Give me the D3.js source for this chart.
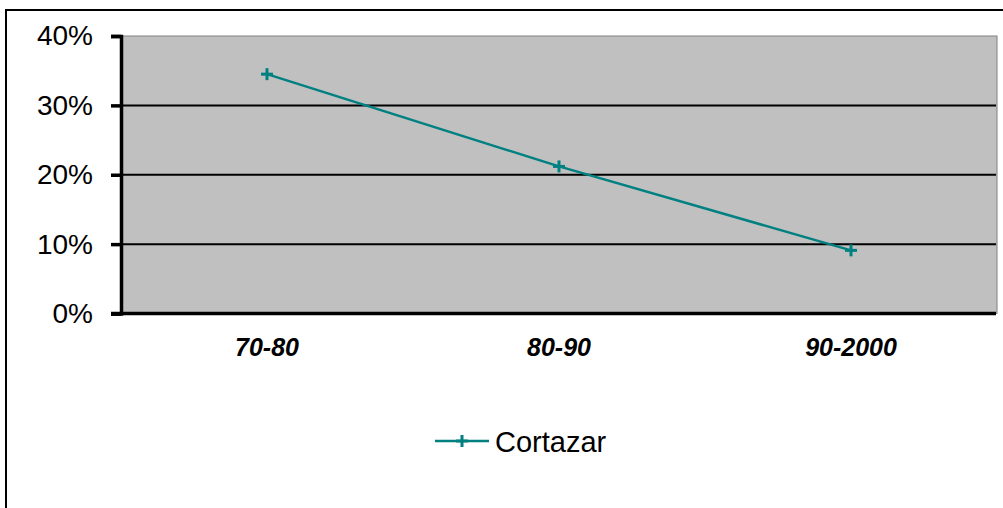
<!DOCTYPE html>
<html><head><meta charset="utf-8">
<script src="https://cdn.jsdelivr.net/npm/d3@7/dist/d3.min.js"></script>
<style>body{margin:0;background:#fff;overflow:hidden;} svg{display:block;font-family:"Liberation Sans",Arial,sans-serif;}</style>
</head><body>
<script>
const categories = ["70-80", "80-90", "90-2000"];
const seriesName = "Cortazar";
const values = [0.345, 0.212, 0.091];
const yTicks = [0, 0.1, 0.2, 0.3, 0.4];

const W = 1003, H = 508;
const svg = d3.select("body").append("svg").attr("width", W).attr("height", H);

svg.append("rect").attr("x", 6).attr("y", 10).attr("width", 1010).attr("height", 520)
  .attr("fill", "#fff").attr("stroke", "#000").attr("stroke-width", 2);

const L = 121, R = 997, T = 36, B = 313.5;
const x = d3.scaleBand().domain(categories).range([L, R]);
const y = d3.scaleLinear().domain([0, 0.4]).range([B, T]);

svg.append("rect").attr("x", L).attr("y", T).attr("width", R - L).attr("height", B - T)
  .attr("fill", "#c0c0c0").attr("stroke", "#808080").attr("stroke-width", 1);

// gridlines
svg.append("g").selectAll("line").data(yTicks.filter(d => d > 0 && d < 0.4)).join("line")
  .attr("x1", L).attr("x2", R - 1).attr("y1", d => y(d)).attr("y2", d => y(d))
  .attr("stroke", "#000").attr("stroke-width", 2);

// y axis
const yAxis = d3.axisLeft(y).tickValues(yTicks).tickFormat(d3.format(".0%")).tickSize(10).tickPadding(18);
const gy = svg.append("g").attr("transform", `translate(${L},0)`).call(yAxis);
gy.select(".domain").attr("stroke", "#000").attr("stroke-width", 3.5);
gy.selectAll(".tick line").attr("stroke", "#000").attr("stroke-width", 3.5);
gy.selectAll(".tick text").attr("font-size", 28).attr("fill", "#000").attr("font-family", "Liberation Sans, Arial, sans-serif");

// x axis
const xAxis = d3.axisBottom(x).tickSize(0).tickPadding(25);
const gx = svg.append("g").attr("transform", `translate(0,${B})`).call(xAxis);
gx.select(".domain").remove();
gx.append("line").attr("x1", L - 10).attr("x2", R - 1).attr("y1", 0).attr("y2", 0)
  .attr("stroke", "#000").attr("stroke-width", 3.5);
gx.selectAll(".tick text").attr("font-size", 25).attr("font-weight", "bold").attr("font-style", "italic")
  .attr("fill", "#000").attr("font-family", "Liberation Sans, Arial, sans-serif");

const teal = "#008080";
const cx = d => x(d) + x.bandwidth() / 2;
const line = d3.line().x((d, i) => cx(categories[i])).y(d => y(d));
svg.append("path").datum(values).attr("d", line).attr("fill", "none")
  .attr("stroke", teal).attr("stroke-width", 2.5);

const plus = (g, px, py, s) => {
  g.append("line").attr("x1", px - s).attr("x2", px + s).attr("y1", py).attr("y2", py).attr("stroke", teal).attr("stroke-width", 3);
  g.append("line").attr("x1", px).attr("x2", px).attr("y1", py - s).attr("y2", py + s).attr("stroke", teal).attr("stroke-width", 3);
};
const gm = svg.append("g");
values.forEach((v, i) => plus(gm, cx(categories[i]), y(v), 6));

// legend
const lg = svg.append("g");
lg.append("line").attr("x1", 435).attr("x2", 489).attr("y1", 441).attr("y2", 441).attr("stroke", teal).attr("stroke-width", 2.5);
plus(lg, 462, 441, 6);
lg.append("text").attr("x", 495).attr("y", 452).attr("font-size", 29).attr("fill", "#000").text(seriesName);
</script>
</body></html>
